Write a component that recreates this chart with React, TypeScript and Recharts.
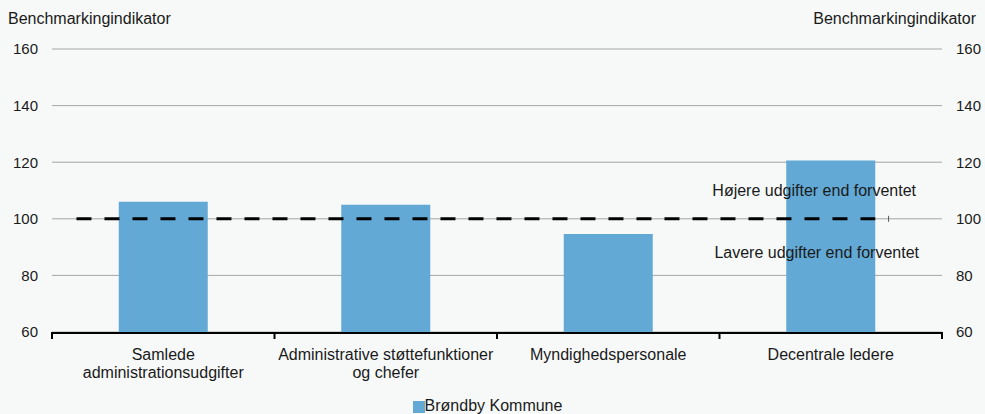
import React from "react";
import {
	ComposedChart,
	Bar,
	Scatter,
	XAxis,
	YAxis,
	CartesianGrid,
	ReferenceLine,
	Legend,
} from "recharts";

// Categories and values
const categories = [
	"Samlede\nadministrationsudgifter",
	"Administrative støttefunktioner\nog chefer",
	"Myndighedspersonale",
	"Decentrale ledere",
];
const brondbyValues = [106, 105, 94.6, 120.6];
const yTicks = [60, 80, 100, 120, 140, 160];
const expectedLevel = 100;
// dashed "expected" line, in category units (0..4)
const expectedLineX = [0.11, 3.7];
const expectedEndX = [3.76];

const BAR_COLOR = "#63a9d5";
const FONT = "Arial, 'Liberation Sans', sans-serif";
const TEXT = "#1a1a1a";

const chartData = categories.map((name, i) => ({
	name,
	value: brondbyValues[i],
}));
const lineData = expectedLineX.map((x) => ({ x, y: expectedLevel }));
const endData = expectedEndX.map((x) => ({ x, y: expectedLevel }));

const CategoryTick = (props: any) => {
	const { x, y, payload } = props;
	const lines = String(payload.value).split("\n");
	return (
		<text
			x={x}
			y={y + 19}
			textAnchor="middle"
			fill={TEXT}
			fontSize={16}
			fontFamily={FONT}
		>
			{lines.map((l, i) => (
				<tspan key={i} x={x} dy={i === 0 ? 0 : 18}>
					{l}
				</tspan>
			))}
		</text>
	);
};

const EndTick = (props: any) => {
	const { cx, cy } = props;
	if (cx == null) return <g />;
	return <line x1={cx} x2={cx} y1={cy - 3} y2={cy + 3} stroke="#555" strokeWidth={1} />;
};

const EmptyTick = () => <g />;

export default function App() {
	return (
		<div
			style={{
				position: "relative",
				width: 985,
				height: 414,
				background: "#f7f9f9",
				fontFamily: FONT,
			}}
		>
			<style>{`body{margin:0}`}</style>
			<div style={{ position: "absolute", left: 8, top: 10, fontSize: 16, color: TEXT }}>
				Benchmarkingindikator
			</div>
			<div style={{ position: "absolute", right: 9, top: 10, fontSize: 16, color: TEXT }}>
				Benchmarkingindikator
			</div>
			<ComposedChart
				width={985}
				height={414}
				data={chartData}
				margin={{ top: 49, right: 0, left: 0, bottom: 0 }}
				barCategoryGap="30%"
			>
				<CartesianGrid
					xAxisId="b_cat"
					yAxisId="left"
					vertical={false}
					stroke="#a6a6a6"
					strokeWidth={1}
				/>
				<XAxis
					xAxisId="a_num"
					type="number"
					dataKey="x"
					domain={[0, 4]}
					ticks={[0, 1, 2, 3, 4]}
					allowDataOverflow
					height={1}
					tick={<EmptyTick />}
					axisLine={false}
					tickLine={{ stroke: "#000", strokeWidth: 2 }}
					tickSize={7}
				/>
				<XAxis
					xAxisId="b_cat"
					dataKey="name"
					interval={0}
					height={53}
					axisLine={{ stroke: "#000", strokeWidth: 2 }}
					tickLine={false}
					tick={<CategoryTick />}
				/>
				<YAxis
					yAxisId="left"
					domain={[60, 160]}
					ticks={yTicks}
					width={52}
					axisLine={false}
					tickLine={false}
					tickSize={6}
					tickMargin={8}
					tick={{ fill: TEXT, fontSize: 15, fontFamily: FONT }}
				/>
				<YAxis
					yAxisId="right"
					orientation="right"
					domain={[60, 160]}
					ticks={yTicks}
					allowDataOverflow
					width={43}
					axisLine={false}
					tickLine={false}
					tickSize={6}
					tickMargin={8}
					tick={{ fill: TEXT, fontSize: 15, fontFamily: FONT }}
				/>
				<Bar
					xAxisId="b_cat"
					yAxisId="left"
					dataKey="value"
					name="Brøndby Kommune"
					fill={BAR_COLOR}
					isAnimationActive={false}
				/>
				<Scatter
					xAxisId="a_num"
					yAxisId="left"
					data={lineData}
					dataKey="y"
					line={{ stroke: "#000", strokeWidth: 3, strokeDasharray: "15 13" }}
					shape={<EmptyTick />}
					legendType="none"
					isAnimationActive={false}
				/>
				<Scatter
					xAxisId="a_num"
					yAxisId="right"
					data={endData}
					dataKey="y"
					shape={<EndTick />}
					legendType="none"
					isAnimationActive={false}
				/>
				<ReferenceLine
					yAxisId="left"
					xAxisId="b_cat"
					y={110}
					stroke="none"
					label={{
						value: "Højere udgifter end forventet",
						position: "insideRight",
						offset: 26,
						fill: TEXT,
						fontSize: 16,
						fontFamily: FONT,
					}}
				/>
				<ReferenceLine
					yAxisId="left"
					xAxisId="b_cat"
					y={88.3}
					stroke="none"
					label={{
						value: "Lavere udgifter end forventet",
						position: "insideRight",
						offset: 23,
						fill: TEXT,
						fontSize: 16,
						fontFamily: FONT,
					}}
				/>
				<Legend
					verticalAlign="bottom"
					height={28}
					iconType="square"
					iconSize={12}
					wrapperStyle={{ fontSize: 16, fontFamily: FONT, color: TEXT, bottom: -11 }}
					formatter={(v) => <span style={{ color: TEXT, marginLeft: -4 }}>{v}</span>}
				/>
			</ComposedChart>
		</div>
	);
}
